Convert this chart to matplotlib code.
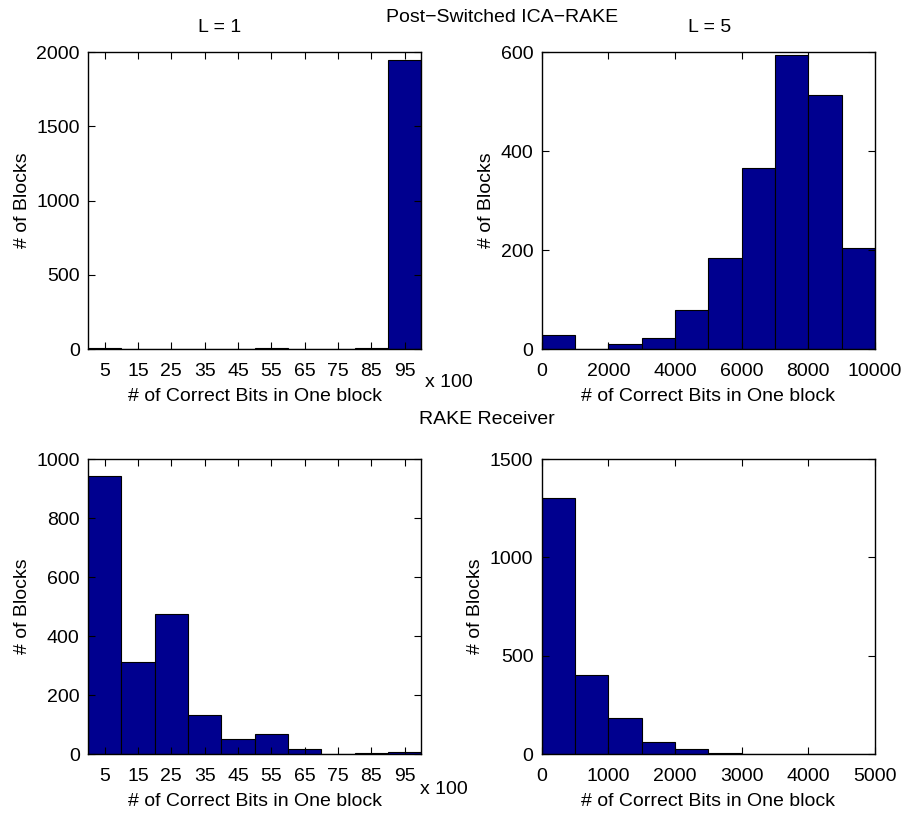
import numpy as np
import matplotlib
matplotlib.use("Agg")
import matplotlib.pyplot as plt

plt.rcParams['font.family'] = ['Liberation Sans', 'DejaVu Sans']
plt.rcParams['font.size'] = 14

# Données
centres_x100 = [5, 15, 25, 35, 45, 55, 65, 75, 85, 95]
ica_L1 = [6, 2, 1, 2, 2, 4, 3, 2, 7, 1945]

centres_L5 = [500, 1500, 2500, 3500, 4500, 5500, 6500, 7500, 8500, 9500]
ica_L5 = [29, 1, 11, 22, 79, 183, 365, 595, 513, 205]

rake_L1 = [942, 312, 475, 132, 51, 68, 16, 1, 2, 8]

centres_rake5 = [250, 750, 1250, 1750, 2250, 2750, 3250, 3750, 4250, 4750]
rake_L5 = [1302, 401, 182, 61, 27, 5, 1, 1, 1, 1]

couleur = (0, 0, 0.56)

fig = plt.figure(figsize=(9.03, 8.17), dpi=100)
w, h = 0.369, 0.3635
ax1 = fig.add_axes([0.0975, 0.5728, w, h])
ax2 = fig.add_axes([0.600, 0.5728, w, h])
ax3 = fig.add_axes([0.0975, 0.0771, w, 0.361])
ax4 = fig.add_axes([0.600, 0.0771, w, 0.361])

ax1.bar(centres_x100, ica_L1, width=10, color=couleur, edgecolor='black', linewidth=0.8)
ax1.set_xlim(0, 100)
ax1.set_ylim(0, 2000)
ax1.set_xticks(centres_x100)
ax1.set_yticks([0, 500, 1000, 1500, 2000])

ax2.bar(centres_L5, ica_L5, width=1000, color=couleur, edgecolor='black', linewidth=0.8)
ax2.set_xlim(0, 10000)
ax2.set_ylim(0, 600)
ax2.set_xticks([0, 2000, 4000, 6000, 8000, 10000])
ax2.set_yticks([0, 200, 400, 600])

ax3.bar(centres_x100, rake_L1, width=10, color=couleur, edgecolor='black', linewidth=0.8)
ax3.set_xlim(0, 100)
ax3.set_ylim(0, 1000)
ax3.set_xticks(centres_x100)
ax3.set_yticks([0, 200, 400, 600, 800, 1000])

ax4.bar(centres_rake5, rake_L5, width=500, color=couleur, edgecolor='black', linewidth=0.8)
ax4.set_xlim(0, 5000)
ax4.set_ylim(0, 1500)
ax4.set_xticks([0, 1000, 2000, 3000, 4000, 5000])
ax4.set_yticks([0, 500, 1000, 1500])

for ax in [ax1, ax2, ax3, ax4]:
    ax.tick_params(direction='in', top=True, right=True, length=5)
    ax.tick_params(axis='x', pad=10)
    ax.tick_params(axis='y', pad=6)
    ax.set_xlabel('# of Correct Bits in One block', labelpad=6)
    ax.set_ylabel('# of Blocks', labelpad=4)
    for s in ax.spines.values():
        s.set_linewidth(1.0)

# Titres et annotations
fig.text(220 / 903, 1 - 28 / 817, 'L = 1', ha='center', va='center')
fig.text(710 / 903, 1 - 28 / 817, 'L = 5', ha='center', va='center')
fig.text(502 / 903, 1 - 18 / 817, 'Post\u2212Switched ICA\u2212RAKE', ha='center', va='center')
fig.text(487 / 903, 1 - 420 / 817, 'RAKE Receiver', ha='center', va='center')
fig.text(425 / 903, 1 - 382 / 817, 'x 100', ha='left', va='center')
fig.text(420 / 903, 1 - 790 / 817, 'x 100', ha='left', va='center')

fig.savefig('out.png', dpi=100)
